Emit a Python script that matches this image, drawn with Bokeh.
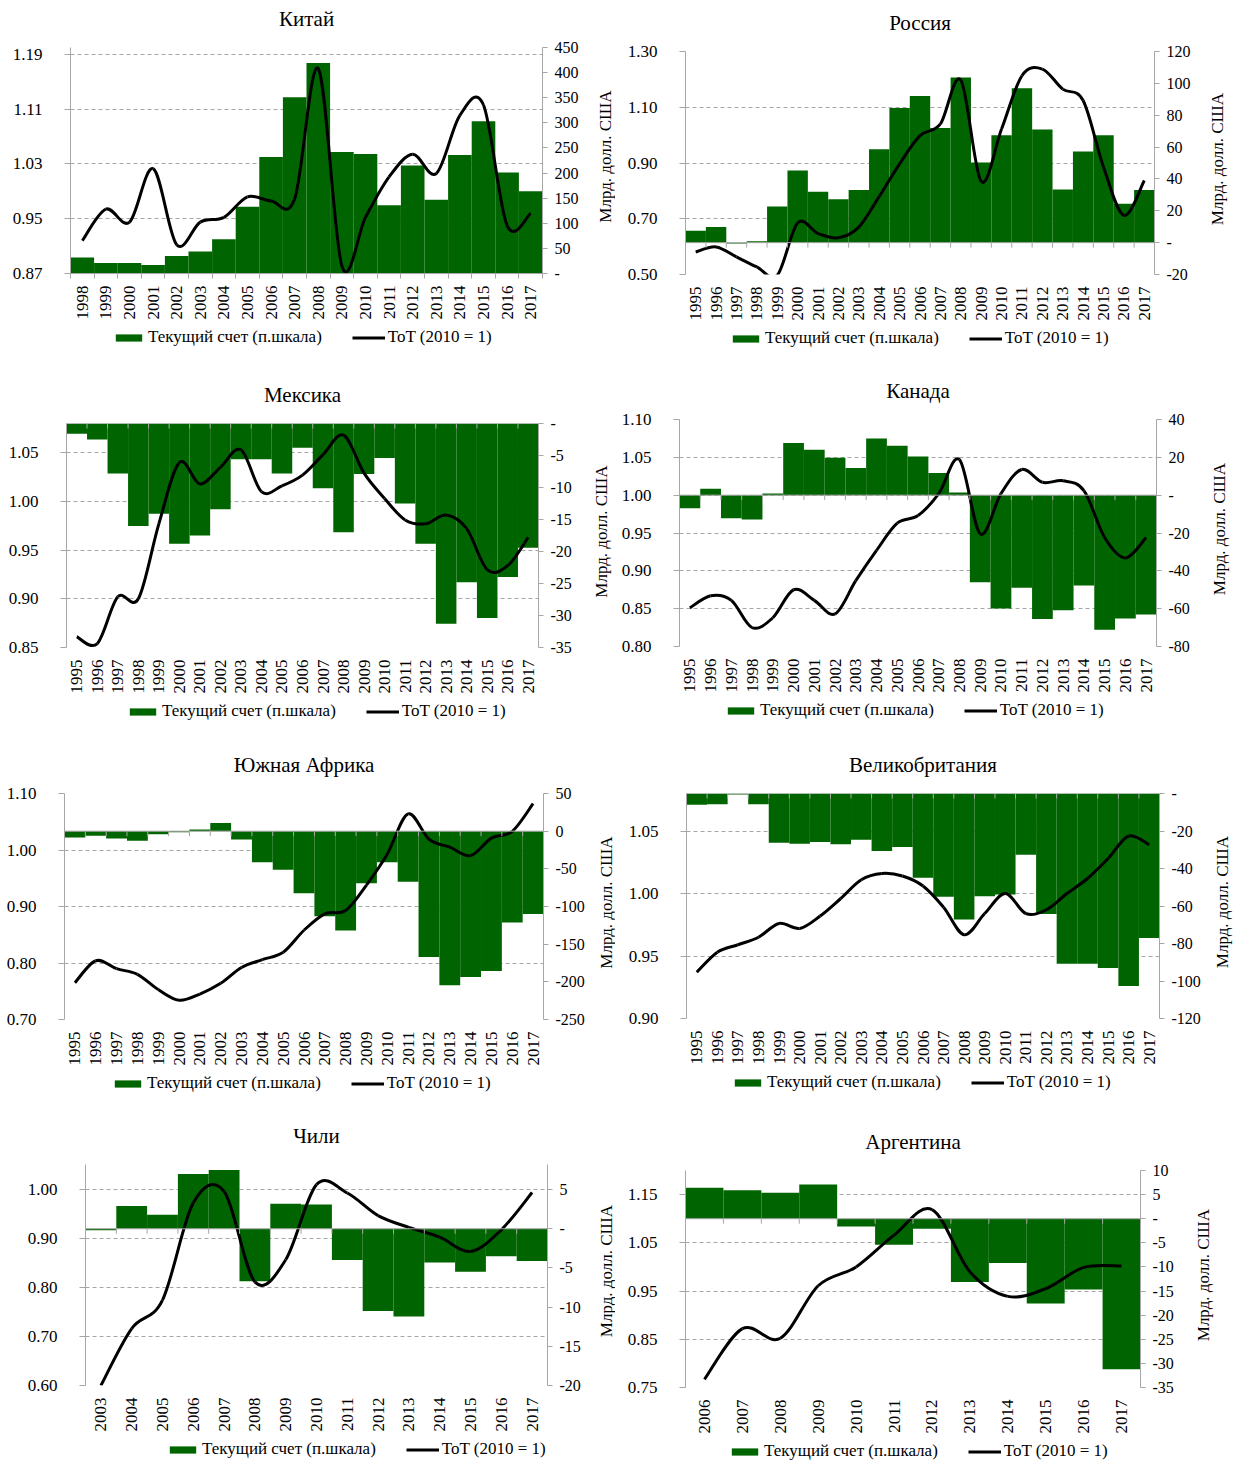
import math
from bokeh.plotting import figure
from bokeh.models import (Range1d, LinearAxis, FixedTicker, NumeralTickFormatter,
                          CustomJSTickFormatter, Legend, LegendItem, Span, Label)
from bokeh.layouts import column, row
from bokeh.embed import file_html
from bokeh.resources import INLINE

FONT = "Liberation Serif"
GREEN = "#006400"
AXIS_GRAY = "#a6a6a6"
GRID_GRAY = "#a6a6a6"
AXIS_TITLE = "Млрд. долл. США"
LEGEND_CA = "Текущий счет (п.шкала)"
LEGEND_TOT = "ToT (2010 = 1)"

# ---------------- data ----------------
china_years = list(range(1998, 2018))
china_ca = [32, 21, 21, 17, 35, 44, 68, 133, 232, 351, 419, 242, 238, 136, 215, 147, 236, 303, 201, 164]
china_tot = [0.918, 0.964, 0.945, 1.023, 0.912, 0.945, 0.952, 0.982, 0.976, 0.979, 1.169, 0.881,
             0.952, 1.011, 1.044, 1.016, 1.101, 1.116, 0.940, 0.958]
china_left_ticks = [0.87, 0.95, 1.03, 1.11, 1.19]
china_right_ticks = [0, 50, 100, 150, 200, 250, 300, 350, 400, 450]

russia_years = list(range(1995, 2018))
russia_ca = [7.5, 9.8, -0.6, 0.8, 22.7, 45.3, 31.9, 27.3, 33.0, 58.6, 84.5, 92.0, 72.0, 103.7,
             50.3, 67.4, 97.0, 71.1, 33.4, 57.2, 67.4, 24.4, 33.0]
russia_tot = [0.581, 0.599, 0.563, 0.527, 0.497, 0.685, 0.647, 0.632, 0.670, 0.780, 0.897, 0.998,
              1.040, 1.197, 0.834, 1.022, 1.213, 1.237, 1.165, 1.124, 0.885, 0.712, 0.837]
russia_left_ticks = [0.50, 0.70, 0.90, 1.10, 1.30]
russia_right_ticks = [-20, 0, 20, 40, 60, 80, 100, 120]

mexico_years = list(range(1995, 2018))
mexico_ca = [-1.6, -2.5, -7.8, -16.0, -14.1, -18.8, -17.5, -13.4, -5.6, -5.6, -7.8, -3.8, -10.1,
             -17.0, -7.9, -5.4, -12.5, -18.8, -31.3, -24.8, -30.4, -24.0, -19.4]
mexico_tot = [0.861, 0.854, 0.902, 0.900, 0.977, 1.040, 1.018, 1.035, 1.053, 1.010, 1.016, 1.027,
              1.048, 1.068, 1.029, 1.003, 0.981, 0.977, 0.986, 0.972, 0.930, 0.934, 0.963]
mexico_left_ticks = [0.85, 0.90, 0.95, 1.00, 1.05]
mexico_right_ticks = [-35, -30, -25, -20, -15, -10, -5, 0]

canada_years = list(range(1995, 2018))
canada_ca = [-6.9, 3.4, -12.2, -12.9, 0.9, 27.6, 24.0, 19.8, 14.3, 30.0, 26.1, 20.5, 11.7, 1.4,
             -46.1, -59.9, -48.9, -65.5, -60.8, -47.7, -71.2, -65.2, -63.1]
canada_tot = [0.851, 0.867, 0.861, 0.825, 0.838, 0.875, 0.861, 0.843, 0.887, 0.927, 0.963, 0.973,
              1.002, 1.047, 0.949, 1.002, 1.034, 1.017, 1.019, 1.006, 0.944, 0.917, 0.944]
canada_left_ticks = [0.80, 0.85, 0.90, 0.95, 1.00, 1.05, 1.10]
canada_right_ticks = [-80, -60, -40, -20, 0, 20, 40]

safrica_years = list(range(1995, 2018))
safrica_ca = [-8.4, -6.2, -9.7, -12.8, -4.0, -1.3, 2.2, 11.0, -11.0, -41.4, -51.1, -82.5, -112.9,
              -131.8, -69.2, -41.4, -67.0, -167.1, -204.6, -193.6, -185.6, -121.3, -109.8]
safrica_tot = [0.765, 0.804, 0.790, 0.780, 0.753, 0.734, 0.745, 0.764, 0.792, 0.806, 0.819, 0.858,
               0.887, 0.893, 0.938, 0.993, 1.064, 1.019, 1.005, 0.990, 1.021, 1.033, 1.082]
safrica_left_ticks = [0.70, 0.80, 0.90, 1.00, 1.10]
safrica_right_ticks = [-250, -200, -150, -100, -50, 0, 50]

uk_years = list(range(1995, 2018))
uk_ca = [-6.0, -5.7, -0.5, -5.7, -26.2, -26.8, -25.9, -27.1, -24.6, -30.7, -28.5, -44.9, -55.1,
         -67.2, -54.8, -53.9, -32.6, -64.2, -90.8, -90.8, -93.1, -102.7, -77.0]
uk_tot = [0.937, 0.953, 0.959, 0.965, 0.976, 0.972, 0.982, 0.996, 1.011, 1.016, 1.014, 1.006,
          0.989, 0.967, 0.984, 1.000, 0.984, 0.987, 1.000, 1.012, 1.028, 1.046, 1.039]
uk_left_ticks = [0.90, 0.95, 1.00, 1.05]
uk_right_ticks = [-120, -100, -80, -60, -40, -20, 0]

chile_years = list(range(2003, 2018))
chile_ca = [-0.2, 2.9, 1.8, 7.0, 7.5, -6.7, 3.2, 3.1, -4.0, -10.5, -11.2, -4.3, -5.5, -3.5, -4.1]
chile_tot = [0.600, 0.716, 0.774, 0.972, 0.995, 0.811, 0.856, 1.009, 0.992, 0.946, 0.922, 0.902,
             0.873, 0.917, 0.993]
chile_left_ticks = [0.60, 0.70, 0.80, 0.90, 1.00]
chile_right_ticks = [-20, -15, -10, -5, 0, 5]

argentina_years = list(range(2006, 2018))
argentina_ca = [6.4, 5.9, 5.4, 7.1, -1.6, -5.4, -2.1, -13.1, -9.2, -17.6, -14.7, -31.2]
argentina_tot = [0.767, 0.872, 0.852, 0.961, 1.000, 1.066, 1.119, 0.990, 0.939, 0.955, 0.999, 1.002]
argentina_left_ticks = [0.75, 0.85, 0.95, 1.05, 1.15]
argentina_right_ticks = [-35, -30, -25, -20, -15, -10, -5, 0, 5, 10]


def smooth_segments(xs, ys):
    """Bezier control points (Catmull-Rom style, like a spreadsheet 'smoothed line')."""
    n = len(xs)
    out = {k: [] for k in ("x0", "y0", "x1", "y1", "cx0", "cy0", "cx1", "cy1")}
    for i in range(n - 1):
        a = max(i - 1, 0)
        b = min(i + 2, n - 1)
        out["x0"].append(xs[i]); out["y0"].append(ys[i])
        out["x1"].append(xs[i + 1]); out["y1"].append(ys[i + 1])
        out["cx0"].append(xs[i] + (xs[i + 1] - xs[a]) / 6.0)
        out["cy0"].append(ys[i] + (ys[i + 1] - ys[a]) / 6.0)
        out["cx1"].append(xs[i + 1] - (xs[b] - xs[i]) / 6.0)
        out["cy1"].append(ys[i + 1] - (ys[b] - ys[i]) / 6.0)
    return out


def bare(w, h):
    f = figure(width=w, height=h, x_range=Range1d(0, w), y_range=Range1d(0, h),
               min_border=0, toolbar_location=None, output_backend="svg",
               x_axis_type=None, y_axis_type=None, outline_line_color=None,
               background_fill_color="white", border_fill_color="white")
    f.title.visible = False
    return f


def panel(title, years, ca, tot, left_rng, left_ticks, right_rng, right_ticks, zero_label,
          ox, oy, cw, rh, fx0, fx1, fy0, fy1, legend_dx, zero_at_bottom=False):
    BR, BB, BT = 50, 52, 12
    title_h = fy0 - oy - BT
    mw = fx1 - ox + BR
    mh = fy1 + BB - (oy + title_h)
    sw = cw - mw
    lh = rh - title_h - mh

    # ---- title strip
    tf = bare(cw, title_h)
    tf.add_layout(Label(x=(fx0 + fx1) / 2 - ox, y=title_h - (fy0 - 29 - oy), text=title,
                        text_align="center", text_baseline="middle", text_font=FONT,
                        text_font_size="21px", text_color="black"))

    # ---- main chart
    p = figure(width=mw, height=mh, output_backend="svg", toolbar_location=None,
               x_range=Range1d(years[0] - 0.5, years[-1] + 0.5),
               y_range=Range1d(*left_rng),
               min_border_left=fx0 - ox, min_border_right=BR, min_border_top=BT, min_border_bottom=BB,
               outline_line_color=None, background_fill_color="white", border_fill_color="white")
    p.title.visible = False
    p.extra_y_ranges = {"ca": Range1d(*right_rng)}

    p.vbar(x=years, top=ca, bottom=0, width=1.0, y_range_name="ca",
           fill_color=GREEN, line_color=None)
    p.bezier(line_color="black", line_width=3, **smooth_segments(years, tot))

    bounds = [y - 0.5 for y in years] + [years[-1] + 0.5]
    p.add_layout(Span(location=0, dimension="width", y_range_name="ca",
                      line_color=AXIS_GRAY, line_width=1))
    if not zero_at_bottom:
        p.ray(x=bounds, y=[0] * len(bounds), length=5, length_units="screen",
              angle=-math.pi / 2, y_range_name="ca", line_color=AXIS_GRAY, line_width=1)

    ly = p.yaxis[0]
    ly.ticker = FixedTicker(ticks=left_ticks)
    ly.formatter = NumeralTickFormatter(format="0.00")
    ly.axis_line_color = AXIS_GRAY
    ly.major_tick_line_color = AXIS_GRAY
    ly.major_tick_out = 6
    ly.major_tick_in = 0
    ly.minor_tick_line_color = None
    ly.major_label_standoff = 22
    ly.major_label_text_font = FONT
    ly.major_label_text_font_size = "17px"
    ly.major_label_text_color = "black"

    p.ygrid.grid_line_color = GRID_GRAY
    p.ygrid.grid_line_dash = "4 3"
    p.ygrid.grid_line_width = 1
    p.xgrid.visible = False

    xa = p.xaxis[0]
    xa.ticker = FixedTicker(ticks=years, minor_ticks=bounds)
    xa.formatter = NumeralTickFormatter(format="0")
    xa.major_label_orientation = math.pi / 2
    xa.major_tick_line_color = None
    if zero_at_bottom:
        xa.axis_line_color = AXIS_GRAY
        xa.minor_tick_line_color = AXIS_GRAY
        xa.minor_tick_out = 5
        xa.minor_tick_in = 0
    else:
        xa.axis_line_color = None
        xa.minor_tick_line_color = None
    xa.major_label_standoff = 6
    xa.major_label_text_font = FONT
    xa.major_label_text_font_size = "17px"
    xa.major_label_text_color = "black"

    fmt = CustomJSTickFormatter(code="return tick === 0 ? '%s' : String(Math.round(tick));" % zero_label)
    ra = LinearAxis(y_range_name="ca", ticker=FixedTicker(ticks=right_ticks), formatter=fmt)
    ra.axis_line_color = AXIS_GRAY
    ra.major_tick_line_color = AXIS_GRAY
    ra.major_tick_out = 5
    ra.major_tick_in = 0
    ra.minor_tick_line_color = None
    ra.major_label_standoff = 7
    ra.major_label_text_font = FONT
    ra.major_label_text_font_size = "16px"
    ra.major_label_text_color = "black"
    p.add_layout(ra, "right")

    # ---- right-hand axis title strip
    sf = bare(sw, mh)
    sf.add_layout(Label(x=min(13, sw - 9), y=mh - ((fy0 + fy1) / 2 - (oy + title_h)) - 15,
                        text=AXIS_TITLE, angle=math.pi / 2, text_align="center",
                        text_baseline="middle", text_font=FONT, text_font_size="17px",
                        text_color="black"))

    # ---- legend strip (hidden proxy renderers carry the legend glyph styles)
    lf = bare(cw, lh)
    r_bar = lf.vbar(x=years, top=ca, width=1, fill_color=GREEN, line_color=None, visible=False)
    r_line = lf.line(x=years, y=tot, line_color="black", line_width=3, visible=False)
    legend = Legend(items=[LegendItem(label=LEGEND_CA, renderers=[r_bar]),
                           LegendItem(label=LEGEND_TOT, renderers=[r_line])],
                    orientation="horizontal", location=(fx0 - ox + legend_dx, lh - 22))
    legend.margin = 0
    legend.padding = 0
    legend.spacing = 30
    legend.label_standoff = 3
    legend.glyph_width = 33
    legend.glyph_height = 9
    legend.label_height = 16
    legend.label_text_font = FONT
    legend.label_text_font_size = "17px"
    legend.label_text_color = "black"
    legend.border_line_color = None
    legend.background_fill_alpha = 0
    legend.inactive_fill_alpha = 0
    lf.add_layout(legend)

    return column(tf, row(p, sf), lf)


LW, RW = 615, 618
ROWS = [(0, 375), (375, 370), (745, 370), (1115, 346)]

c_china = panel("Китай", china_years, china_ca, china_tot, (0.87, 1.20), china_left_ticks,
                (0, 450), china_right_ticks, "-", 0, ROWS[0][0], LW, ROWS[0][1],
                70, 542, 47, 273, 42, zero_at_bottom=True)
c_russia = panel("Россия", russia_years, russia_ca, russia_tot, (0.50, 1.30), russia_left_ticks,
                 (-20, 120), russia_right_ticks, "-", LW, ROWS[0][0], RW, ROWS[0][1],
                 685, 1154, 51, 274, 44)
c_mexico = panel("Мексика", mexico_years, mexico_ca, mexico_tot, (0.85, 1.08), mexico_left_ticks,
                 (-35, 0), mexico_right_ticks, "-", 0, ROWS[1][0], LW, ROWS[1][1],
                 66, 538, 423, 647, 60)
c_canada = panel("Канада", canada_years, canada_ca, canada_tot, (0.80, 1.10), canada_left_ticks,
                 (-80, 40), canada_right_ticks, "-", LW, ROWS[1][0], RW, ROWS[1][1],
                 679, 1156, 419, 646, 45)
c_safrica = panel("Южная Африка", safrica_years, safrica_ca, safrica_tot, (0.70, 1.10),
                  safrica_left_ticks, (-250, 50), safrica_right_ticks, "0", 0, ROWS[2][0], LW,
                  ROWS[2][1], 64, 543, 793, 1019, 47)
c_uk = panel("Великобритания", uk_years, uk_ca, uk_tot, (0.90, 1.08), uk_left_ticks,
             (-120, 0), uk_right_ticks, "-", LW, ROWS[2][0], RW, ROWS[2][1],
             686, 1159, 793, 1018, 45)
c_chile = panel("Чили", chile_years, chile_ca, chile_tot, (0.60, 1.05), chile_left_ticks,
                (-20, 8.2), chile_right_ticks, "-", 0, ROWS[3][0], LW, ROWS[3][1],
                85, 547, 1164, 1385, 81)
c_argentina = panel("Аргентина", argentina_years, argentina_ca, argentina_tot, (0.75, 1.20),
                    argentina_left_ticks, (-35, 10), argentina_right_ticks, "-", LW, ROWS[3][0], RW,
                    ROWS[3][1], 685, 1140, 1170, 1387, 43)

layout = column(row(c_china, c_russia), row(c_mexico, c_canada),
                row(c_safrica, c_uk), row(c_chile, c_argentina))

open("out.html", "w").write(file_html(layout, INLINE))
